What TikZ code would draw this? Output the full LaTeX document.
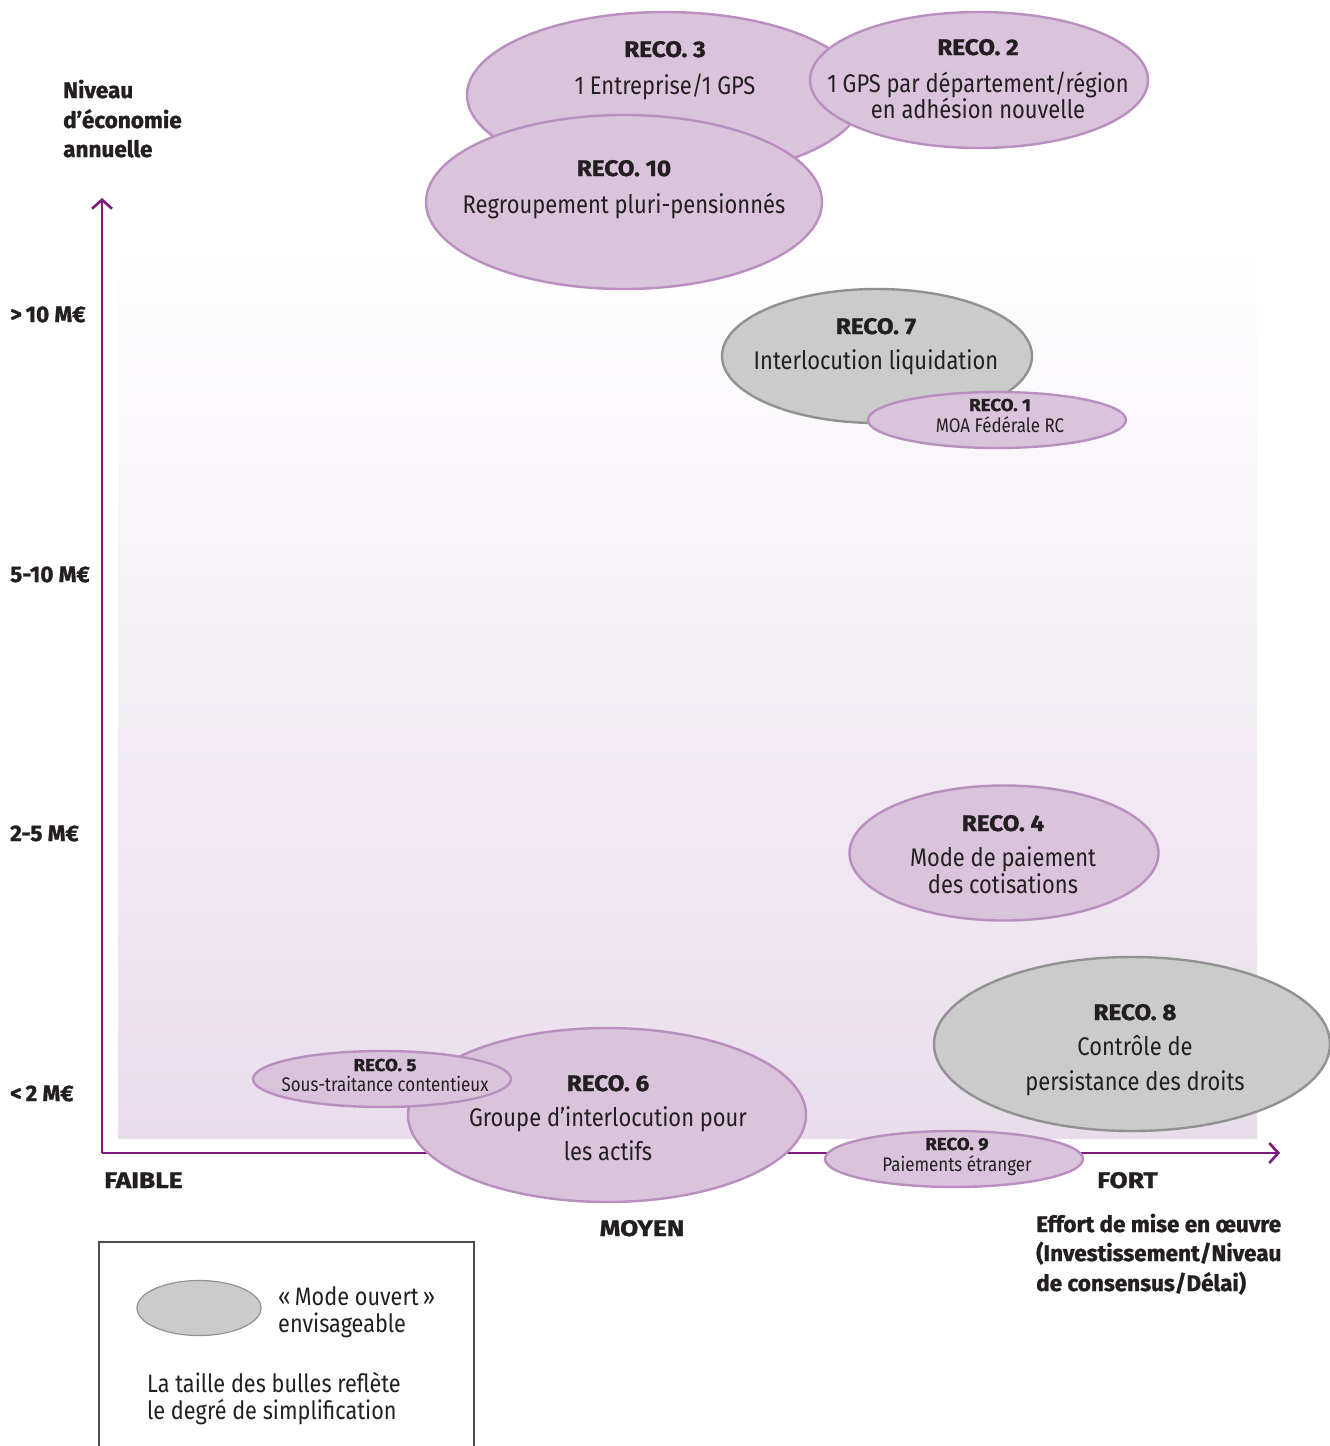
\documentclass[tikz,border=0pt]{standalone}
\usepackage{fontspec}
\setmainfont{Fira Sans}[FakeStretch=0.86]
\newfontfamily\heavy{Fira Sans}[FakeBold=1.3]
\newfontfamily\heavywide{Fira Sans}[FakeBold=1.3,FakeStretch=1.08]
\newfontfamily\heavycaps{Fira Sans}[FakeBold=1.3,FakeStretch=1.17]
\usetikzlibrary{shapes.geometric,arrows.meta}
\definecolor{axispurple}{RGB}{125,26,125}
\definecolor{bubfill}{RGB}{218,196,220}
\definecolor{bubdraw}{RGB}{186,142,192}
\definecolor{grayfill}{RGB}{203,203,203}
\definecolor{graydraw}{RGB}{145,145,145}
\definecolor{bgbottom}{RGB}{233,221,235}
\definecolor{txt}{RGB}{35,31,32}
\tikzset{
  bub/.style={ellipse, draw=bubdraw, fill=bubfill, line width=2.4pt, inner sep=0pt},
  gbub/.style={ellipse, draw=graydraw, fill=grayfill, line width=2.4pt, inner sep=0pt},
  ttl/.style={anchor=base, inner sep=0pt, text=txt, font=\heavywide\bfseries\fontsize{22.5}{26}\selectfont},
  sub/.style={anchor=base, inner sep=0pt, text=txt, font=\fontsize{25.5}{30}\selectfont},
  sttl/.style={anchor=base, inner sep=0pt, text=txt, font=\heavywide\bfseries\fontsize{17.3}{20}\selectfont},
  ssub/.style={anchor=base, inner sep=0pt, text=txt, font=\fontsize{19.7}{23}\selectfont},
  lab/.style={anchor=base west, inner sep=0pt, text=txt, font=\heavy\bfseries\fontsize{22.5}{27}\selectfont},
  capslab/.style={anchor=base west, inner sep=0pt, text=txt, font=\heavycaps\bfseries\fontsize{22.5}{27}\selectfont},
  leg/.style={anchor=base west, inner sep=0pt, text=txt, font=\fontsize{25.2}{30}\selectfont},
  axis/.style={draw=axispurple, line width=2.6pt, -{Straight Barb[length=9pt,width=20pt,line width=2.6pt]}}
}
\begin{document}
\begin{tikzpicture}[x=1pt,y=-1pt]
\useasboundingbox (0,0) rectangle (1330,1446);
% background gradient
\shade[top color=white, bottom color=bgbottom] (118,240) rectangle (1257,1138);
% axes
\coordinate (o) at (102,1153);
\coordinate (ytip) at (102,198);
\coordinate (xtip) at (1280,1153);
\draw[axis] (o) -- (ytip);
\draw[axis] (o) -- (xtip);
% bubbles top
\node[bub, minimum width=396pt, minimum height=166pt] (r3) at (665,95) {};
\node[bub, minimum width=338pt, minimum height=136pt] (r2) at (979,80) {};
\node[bub, minimum width=396pt, minimum height=174pt] (r10) at (624,202) {};
\node[ttl] (r3t) at (665,57) {RECO. 3};
\node[sub] (r3s) at (665,94) {1 Entreprise/1 GPS};
\node[ttl] (r2t) at (978,55) {RECO. 2};
\node[sub] (r2s) at (978,92) {1 GPS par département/région};
\node[sub] (r2u) at (978,118) {en adhésion nouvelle};
\node[ttl] (r10t) at (624,176) {RECO. 10};
\node[sub] (r10s) at (624,213) {Regroupement pluri-pensionnés};
% reco 7 and 1
\node[gbub, minimum width=310pt, minimum height=134pt] (r7) at (877,356) {};
\node[ttl] (r7t) at (876,334) {RECO. 7};
\node[sub] (r7s) at (876,369) {Interlocution liquidation};
\node[bub, minimum width=258pt, minimum height=56pt] (r1) at (997,420) {};
\node[sttl] (r1t) at (1000,411) {RECO. 1};
\node[ssub] (r1s) at (1000,432) {MOA Fédérale RC};
% reco 4
\node[bub, minimum width=309pt, minimum height=135pt] (r4) at (1004,853) {};
\node[ttl] (r4t) at (1003,831) {RECO. 4};
\node[sub] (r4s) at (1003,866) {Mode de paiement};
\node[sub] (r4u) at (1003,893) {des cotisations};
% reco 8
\node[gbub, minimum width=396pt, minimum height=174pt] (r8) at (1132,1044) {};
\node[ttl] (r8t) at (1135,1020) {RECO. 8};
\node[sub] (r8s) at (1135,1055) {Contrôle de};
\node[sub] (r8u) at (1135,1090) {persistance des droits};
% reco 6 and 5
\node[bub, minimum width=398pt, minimum height=174pt] (r6) at (607,1115) {};
\node[ttl] (r6t) at (608,1091) {RECO. 6};
\node[sub] (r6s) at (608,1126) {Groupe d’interlocution pour};
\node[sub] (r6u) at (608,1160) {les actifs};
\node[bub, minimum width=258pt, minimum height=56pt] (r5) at (382,1079) {};
\node[sttl] (r5t) at (385,1071) {RECO. 5};
\node[ssub] (r5s) at (385,1091) {Sous-traitance contentieux};
% reco 9
\node[bub, minimum width=258pt, minimum height=56pt] (r9) at (954,1159) {};
\node[sttl] (r9t) at (957,1150) {RECO. 9};
\node[ssub] (r9s) at (957,1171) {Paiements étranger};
% axis labels
\node[lab] (ny1) at (63,98) {Niveau};
\node[lab] (ny2) at (63,128) {d’économie};
\node[lab] (ny3) at (63,157) {annuelle};
\node[lab] (v1) at (10,322) {>\,10 M€};
\node[lab] (v2) at (10,582) {5-10 M€};
\node[lab] (v3) at (10,841) {2-5 M€};
\node[lab] (v4) at (10,1101) {<\,2 M€};
\node[capslab] (faible) at (104,1188) {FAIBLE};
\node[capslab, anchor=base] (moyen) at (642,1236) {MOYEN};
\node[capslab] (fort) at (1097,1188) {FORT};
\node[lab] (ef1) at (1036,1232) {Effort de mise en œuvre};
\node[lab] (ef2) at (1036,1261) {(Investissement/Niveau};
\node[lab] (ef3) at (1036,1291) {de consensus/Délai)};
% legend
\draw[draw=black!70, line width=1.3pt] (99,1450) -- (99,1242) -- (474,1242) -- (474,1450);
\node[gbub, line width=1.2pt, minimum width=124pt, minimum height=55pt] (lg) at (199,1308) {};
\node[leg] (lg1) at (278,1305) {«\,Mode ouvert\,»};
\node[leg] (lg2) at (278,1332) {envisageable};
\node[leg] (lg3) at (147,1392) {La taille des bulles reflète};
\node[leg] (lg4) at (147,1419) {le degré de simplification};
\end{tikzpicture}
\end{document}
